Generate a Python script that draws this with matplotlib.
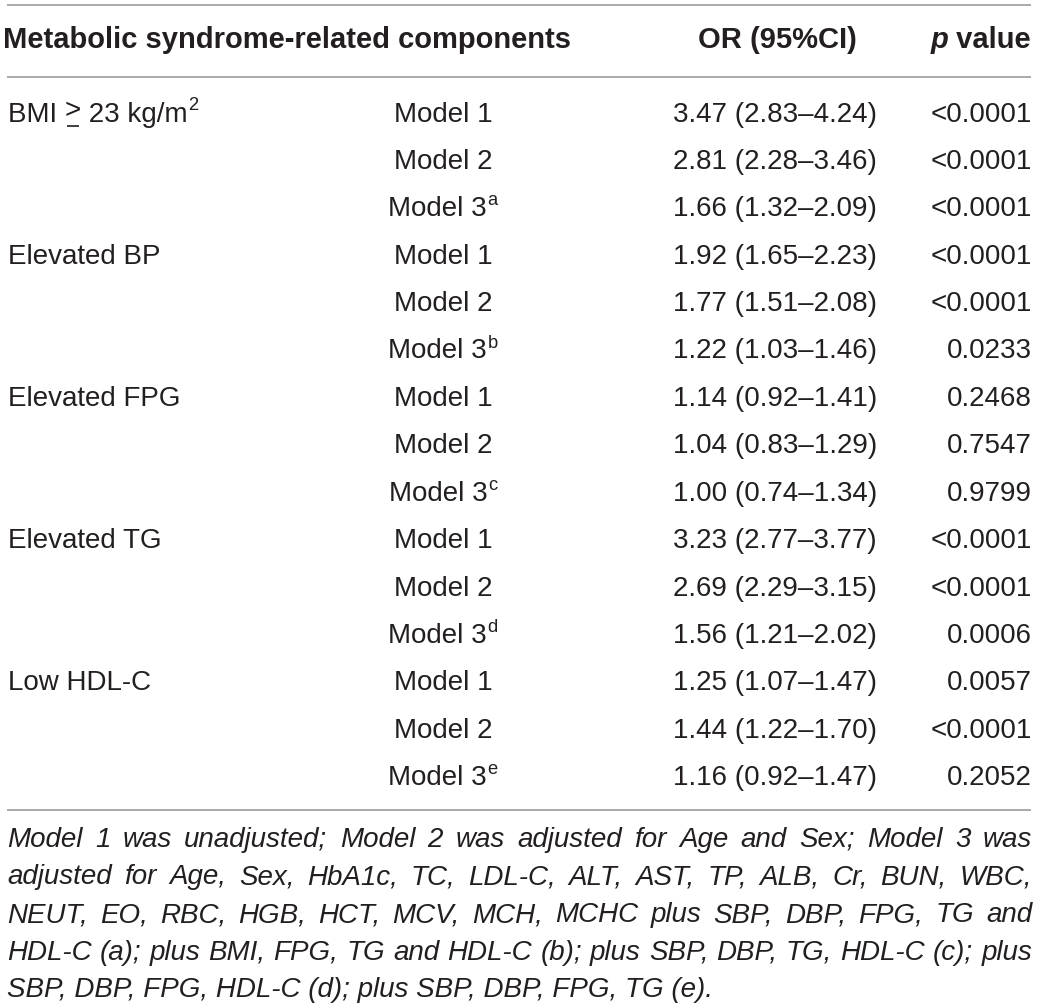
import matplotlib
matplotlib.use('Agg')
import matplotlib.pyplot as plt

# table data
components = ['BMI ≥ 23 kg/m', 'Elevated BP', 'Elevated FPG', 'Elevated TG', 'Low HDL-C']
component_sup = ['2', '', '', '', '']
models = ['Model 1', 'Model 2', 'Model 3']
model3_notes = ['a', 'b', 'c', 'd', 'e']
or_values = [3.47, 2.81, 1.66, 1.92, 1.77, 1.22, 1.14, 1.04, 1.00, 3.23, 2.69, 1.56, 1.25, 1.44, 1.16]
ci_lower = [2.83, 2.28, 1.32, 1.65, 1.51, 1.03, 0.92, 0.83, 0.74, 2.77, 2.29, 1.21, 1.07, 1.22, 0.92]
ci_upper = [4.24, 3.46, 2.09, 2.23, 2.08, 1.46, 1.41, 1.29, 1.34, 3.77, 3.15, 2.02, 1.47, 1.70, 1.47]
p_values = ['<0.0001', '<0.0001', '<0.0001', '<0.0001', '<0.0001', '0.0233', '0.2468', '0.7547',
            '0.9799', '<0.0001', '<0.0001', '0.0006', '0.0057', '<0.0001', '0.2052']
headers = ['Metabolic syndrome-related components', 'OR (95%CI)', 'value']
footnote = [
    'Model 1 was unadjusted; Model 2 was adjusted for Age and Sex; Model 3 was',
    'adjusted for Age, Sex, HbA1c, TC, LDL-C, ALT, AST, TP, ALB, Cr, BUN, WBC,',
    'NEUT, EO, RBC, HGB, HCT, MCV, MCH, MCHC plus SBP, DBP, FPG, TG and',
    'HDL-C (a); plus BMI, FPG, TG and HDL-C (b); plus SBP, DBP, TG, HDL-C (c); plus',
    'SBP, DBP, FPG, HDL-C (d); plus SBP, DBP, FPG, TG (e).',
]

plt.rcParams['font.family'] = ['Liberation Sans', 'DejaVu Sans']
TXT = '#231f20'
LINE = '#a3a3a3'
FS = 20
HFS = 21

W, H = 1042, 1008
fig = plt.figure(figsize=(W / 100, H / 100), dpi=100)
ax = fig.add_axes([0, 0, 1, 1])
ax.set_xlim(0, W)
ax.set_ylim(H, 0)
ax.axis('off')
r = fig.canvas.get_renderer()


def wid(t):
    return t.get_window_extent(renderer=r).width


def put(x, y, s, sup='', ha='left'):
    # main text (≥ drawn as '>' with a flat bar below, as in the source) + optional superscript
    if '≥' in s:
        a, b = s.split('≥')
        segs = [(a, 0), ('≥', 0), (b, 0)]
    else:
        segs = [(s, 0)]
    arts = []
    for txt, _ in segs:
        if txt == '≥':
            t = ax.text(x, y - 3, '>', ha='left', va='baseline', color=TXT, fontsize=FS)
            arts.append((t, 0, True))
        else:
            arts.append((ax.text(x, y, txt, ha='left', va='baseline', color=TXT, fontsize=FS), 0, False))
    if sup:
        arts.append((ax.text(x, y - 11, sup, ha='left', va='baseline', color=TXT, fontsize=FS * 0.66), 0.5, False))
    ws = [wid(a) + g for a, g, _ in arts]
    tot = sum(ws)
    x0 = {'left': x, 'center': x - tot / 2, 'right': x - tot}[ha]
    for (a, g, bar), w_ in zip(arts, ws):
        a.set_x(x0 + g)
        if bar:
            ax.plot([x0 + 2.5, x0 + w_ - 2.5], [y + 4, y + 4], color=TXT, lw=1.2, solid_capstyle='butt')
        x0 += w_


# rules
for yl in [5, 77, 810]:
    ax.plot([7, 1031], [yl, yl], color=LINE, lw=1.3, solid_capstyle='butt')

# header
hy = 48
ax.text(3, hy, headers[0], ha='left', va='baseline', color=TXT, fontsize=HFS, fontweight='bold')
ax.text(777, hy, headers[1], ha='center', va='baseline', color=TXT, fontsize=HFS, fontweight='bold')
tv = ax.text(1031, hy, ' ' + headers[2], ha='right', va='baseline', color=TXT, fontsize=HFS, fontweight='bold')
ax.text(1031 - wid(tv), hy, 'p', ha='right', va='baseline', color=TXT, fontsize=HFS,
        fontweight='bold', style='italic')

# body
y0, dy = 121.5, 47.4
for i in range(len(or_values)):
    y = y0 + i * dy
    g, m = divmod(i, 3)
    if m == 0:
        put(8, y, components[g], component_sup[g])
    put(443, y, models[m], model3_notes[g] if m == 2 else '', ha='center')
    put(877, y, f'{or_values[i]:.2f} ({ci_lower[i]:.2f}–{ci_upper[i]:.2f})', ha='right')
    put(1032, y, p_values[i], ha='right')

# footnote, justified
fy0, fdy = 847, 37.5
x_left, x_right = 7, 1032
for k, line in enumerate(footnote):
    y = fy0 + k * fdy
    if k == len(footnote) - 1:
        ax.text(x_left, y, line, ha='left', va='baseline', color=TXT, fontsize=FS, style='italic')
        continue
    words = line.split(' ')
    arts = [ax.text(0, y, w_, ha='left', va='baseline', color=TXT, fontsize=FS, style='italic')
            for w_ in words]
    ws = [wid(a) for a in arts]
    gap = (x_right - x_left - sum(ws)) / (len(words) - 1)
    x = x_left
    for a, w_ in zip(arts, ws):
        a.set_x(x)
        x += w_ + gap

fig.savefig('out.png', dpi=100)
